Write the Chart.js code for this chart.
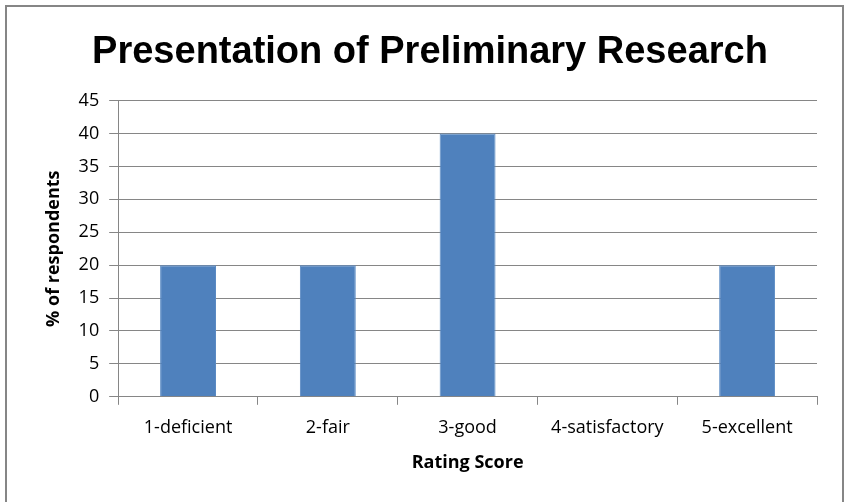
<!DOCTYPE html>
<html>
<head>
<meta charset="utf-8">
<script src="https://cdn.jsdelivr.net/npm/chart.js@4"></script>
<style>
  body { margin: 0; background: #fff; }
  #wrap { position: absolute; left: 0; top: 0; width: 845px; height: 502px; }
</style>
</head>
<body>
<div id="wrap"><canvas id="ratingChart" width="845" height="502"></canvas></div>
<script>
const categories = ['1-deficient', '2-fair', '3-good', '4-satisfactory', '5-excellent'];
const percentValues = [20, 20, 40, 0, 20];
const yTicks = [0, 5, 10, 15, 20, 25, 30, 35, 40, 45];

const FONT = "'Liberation Sans', Arial, sans-serif";
const TICK_FONT = "'Open Sans', 'Liberation Sans', sans-serif";

// outer grey frame like the spreadsheet chart box
const framePlugin = {
  id: 'frame',
  beforeDraw(chart) {
    const c = chart.ctx;
    c.save();
    c.fillStyle = '#fff';
    c.fillRect(0, 0, chart.width, chart.height);
    c.strokeStyle = '#868686';
    c.lineWidth = 2;
    c.strokeRect(6, 6, 837, 510);
    c.restore();
  }
};

const ctx = document.getElementById('ratingChart').getContext('2d');
window.ratingChart = new Chart(ctx, {
  type: 'bar',
  data: {
    labels: categories,
    datasets: [{
      data: percentValues,
      backgroundColor: '#4F81BD',
      borderColor: '#5B8BC4',
      borderWidth: 1,
      categoryPercentage: 1,
      barPercentage: 0.4
    }]
  },
  options: {
    responsive: false,
    animation: false,
    layout: { padding: { top: 30, right: 28, left: 43, bottom: 28 } },
    plugins: {
      legend: { display: false },
      tooltip: { enabled: false },
      title: {
        display: true,
        text: 'Presentation of Preliminary Research',
        color: '#000',
        font: { family: FONT, size: 38, weight: 'bold' },
        padding: { top: 0, bottom: 25 }
      }
    },
    scales: {
      x: {
        grid: { drawOnChartArea: false, drawTicks: true, tickLength: 8, color: '#868686', offset: true },
        border: { color: '#868686', width: 1 },
        ticks: { color: '#000', font: { family: TICK_FONT, size: 18 }, padding: 12, maxRotation: 0 },
        title: {
          display: true,
          text: 'Rating Score',
          color: '#000',
          font: { family: TICK_FONT, size: 18, weight: 'bold' },
          padding: { top: 2, bottom: 0 }
        }
      },
      y: {
        min: 0,
        max: 45,
        afterBuildTicks(axis) { axis.ticks = yTicks.map(v => ({ value: v })); },
        grid: { color: '#868686', tickLength: 9 },
        border: { color: '#868686', width: 1 },
        ticks: { color: '#000', font: { family: TICK_FONT, size: 18 }, padding: 10 },
        title: {
          display: true,
          text: '% of respondents',
          color: '#000',
          font: { family: TICK_FONT, size: 18, weight: 'bold' },
          padding: { top: 0, bottom: 4 }
        }
      }
    }
  },
  plugins: [framePlugin]
});
</script>
</body>
</html>
